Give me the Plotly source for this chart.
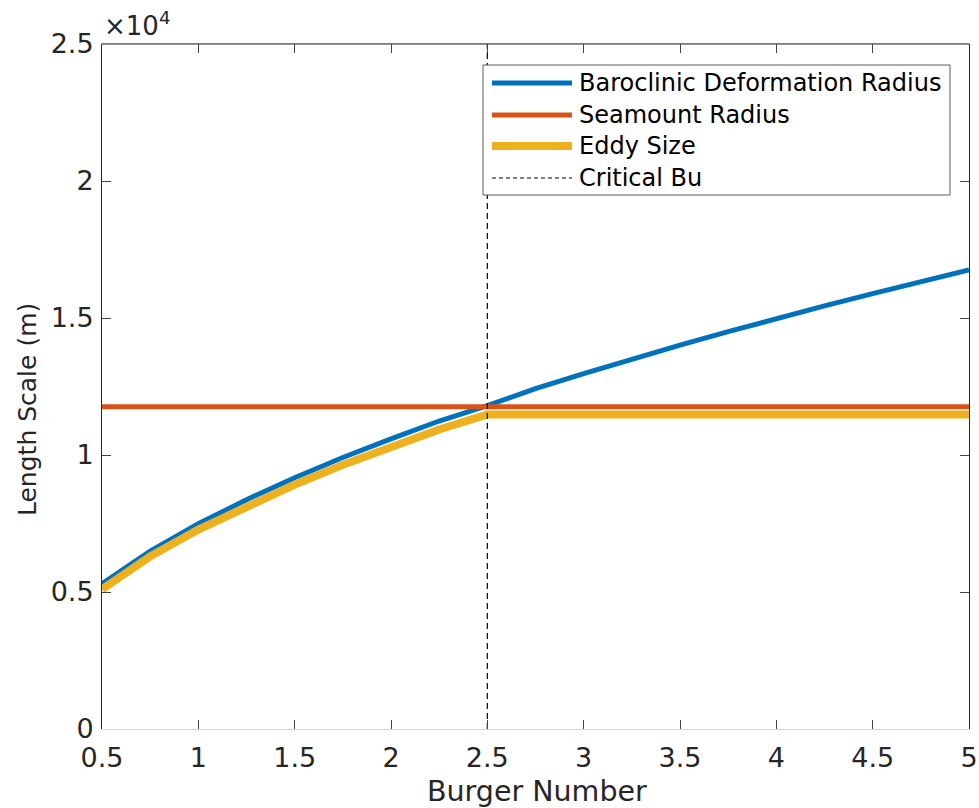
import plotly.graph_objects as go

# Burger number samples and the length scales (m) along them
burger = [0.5, 0.75, 1.0, 1.25, 1.5, 1.75, 2.0, 2.25, 2.5, 2.75, 3.0, 3.25,
          3.5, 3.75, 4.0, 4.25, 4.5, 4.75, 5.0]
deformation_radius = [5300, 6490, 7490, 8370, 9170, 9910, 10590, 11240, 11800,
                      12420, 12970, 13500, 14010, 14500, 14980, 15440, 15890,
                      16320, 16750]
seamount_radius = [11760] * len(burger)
eddy_size = [5100, 6300, 7280, 8140, 8920, 9640, 10300, 10930, 11480, 11480,
             11480, 11480, 11480, 11480, 11480, 11480, 11480, 11480, 11480]
critical_bu = 2.5

series_names = ["Baroclinic Deformation Radius", "Seamount Radius", "Eddy Size",
                "Critical Bu"]
series_colors = ["#0072BD", "#D95319", "#EDB120", "#000000"]
series_widths = [5, 5, 8, 1.2]

x_ticks = [0.5, 1, 1.5, 2, 2.5, 3, 3.5, 4, 4.5, 5]
x_tick_text = ["0.5", "1", "1.5", "2", "2.5", "3", "3.5", "4", "4.5", "5"]
y_ticks = [0, 5000, 10000, 15000, 20000, 25000]
y_tick_text = ["0", "0.5", "1", "1.5", "2", "2.5"]

W, H = 979, 808
L, R, T, B = 102, 10, 44, 79
FONT = "DejaVu Sans"
INK = "#262626"


def px_x(px):
    return (px - L) / (W - L - R)


def px_y(py):
    return (H - B - py) / (H - T - B)


fig = go.Figure()
fig.add_trace(go.Scatter(x=burger, y=deformation_radius, mode="lines",
                         line=dict(color=series_colors[0], width=series_widths[0])))
fig.add_trace(go.Scatter(x=burger, y=seamount_radius, mode="lines",
                         line=dict(color=series_colors[1], width=series_widths[1])))
fig.add_trace(go.Scatter(x=burger, y=eddy_size, mode="lines",
                         line=dict(color=series_colors[2], width=series_widths[2])))
fig.add_trace(go.Scatter(x=[critical_bu, critical_bu], y=[y_ticks[0], y_ticks[-1]],
                         mode="lines",
                         line=dict(color=series_colors[3], width=series_widths[3],
                                   dash="6px,4px")))

shapes = []
annotations = []

# top edge of the axes box (bottom edge drawn lighter by the axis line itself)
shapes.append(dict(type="line", xref="paper", yref="paper", x0=0, x1=1, y0=1, y1=1,
                   line=dict(color=INK, width=1), layer="above"))

# legend box with line samples
shapes.append(dict(type="rect", xref="paper", yref="paper",
                   x0=px_x(483), x1=px_x(950), y0=px_y(195), y1=px_y(65),
                   fillcolor="white", line=dict(color="#5a5a5a", width=1),
                   layer="above"))
row_y = [83, 115, 146, 178]
for i, name in enumerate(series_names):
    shapes.append(dict(type="line", xref="paper", yref="paper",
                       x0=px_x(492), x1=px_x(572), y0=px_y(row_y[i]), y1=px_y(row_y[i]),
                       line=dict(color=series_colors[i], width=series_widths[i],
                                 dash="4px,3px" if i == 3 else "solid"),
                       layer="above"))
    annotations.append(dict(xref="paper", yref="paper", x=px_x(577), y=px_y(row_y[i]),
                            xanchor="left", yanchor="middle", showarrow=False,
                            text=name, font=dict(family=FONT, size=24, color="#000000")))

# exponent label and axis titles
annotations.append(dict(xref="paper", yref="paper", x=px_x(102), y=px_y(43),
                        xanchor="left", yanchor="bottom", showarrow=False,
                        text="×10<sup>4</sup>", font=dict(family=FONT, size=26, color=INK)))
annotations.append(dict(xref="paper", yref="paper", x=px_x(537), y=px_y(791),
                        xanchor="center", yanchor="middle", showarrow=False,
                        text="Burger Number", font=dict(family=FONT, size=28.5, color=INK)))
annotations.append(dict(xref="paper", yref="paper", x=px_x(27), y=px_y(410),
                        xanchor="center", yanchor="middle", showarrow=False, textangle=-90,
                        text="Length Scale (m)", font=dict(family=FONT, size=25, color=INK)))

fig.update_layout(
    width=W, height=H,
    margin=dict(l=L, r=R, t=T, b=B, pad=0, autoexpand=False),
    paper_bgcolor="white", plot_bgcolor="white",
    showlegend=False,
    font=dict(family=FONT, size=27, color=INK),
    shapes=shapes, annotations=annotations,
    xaxis=dict(range=[0.5, 5], tickvals=x_ticks, ticktext=x_tick_text,
               ticks="inside", ticklen=9, tickwidth=1, tickcolor="#444444",
               ticklabelstandoff=5, automargin=False,
               showline=True, linecolor="#d4d4d4", linewidth=1, mirror="ticks",
               showgrid=False, zeroline=False, fixedrange=True),
    yaxis=dict(range=[0, 25000], tickvals=y_ticks, ticktext=y_tick_text,
               ticks="inside", ticklen=9, tickwidth=1, tickcolor="#444444",
               ticklabelstandoff=2, automargin=False,
               showline=True, linecolor=INK, linewidth=1, mirror="ticks",
               showgrid=False, zeroline=False, fixedrange=True),
)

fig.write_html("out.html", config={"displayModeBar": False})
